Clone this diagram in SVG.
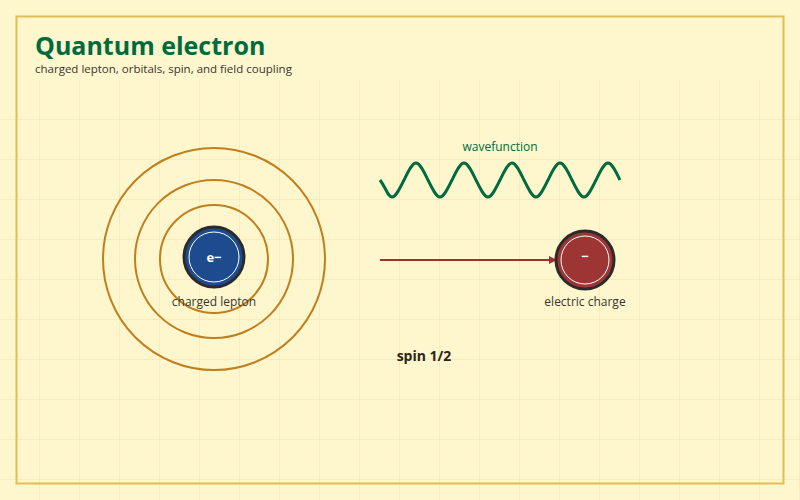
<svg xmlns="http://www.w3.org/2000/svg" width="800" height="500" viewBox="0 0 800 500">
<defs>
<pattern id="grid" width="40" height="40" patternUnits="userSpaceOnUse"><path d="M40 0V40M0 40H40" fill="none" stroke="#f1e2a8" stroke-width="1"/></pattern>
<marker id="ah" markerWidth="8" markerHeight="8" refX="7" refY="4" orient="auto" markerUnits="userSpaceOnUse"><path d="M0 0L8 4L0 8Z" fill="#9e2f2f"/></marker>
<style>
.ring{fill:none;stroke:#c07f1e;stroke-width:2}
.lbl{font-family:"Open Sans","Noto Sans",sans-serif;font-size:12px;fill:#3a3530;text-anchor:middle}
</style>
</defs>
<rect width="800" height="500" fill="#fef6cc"/>
<rect x="0" y="80" width="800" height="420" fill="url(#grid)"/>
<rect x="16.5" y="16.5" width="767" height="467" fill="none" stroke="#e0bd55" stroke-width="2"/>
<text x="35" y="55" font-family="'Open Sans','Noto Sans',sans-serif" font-size="25" font-weight="bold" fill="#006b40">Quantum electron</text>
<text x="35" y="73" font-family="'Open Sans','Noto Sans',sans-serif" font-size="11.5" fill="#3a3530">charged lepton, orbitals, spin, and field coupling</text>
<g id="orbitals">
<circle class="ring" cx="214" cy="259" r="111"/>
<circle class="ring" cx="214" cy="259" r="79"/>
<circle class="ring" cx="214" cy="259" r="54"/>
</g>
<g id="connectors">
<line x1="380" y1="260" x2="556" y2="260" stroke="#9e2f2f" stroke-width="2" marker-end="url(#ah)"/>
</g>
<g id="lepton">
<circle cx="214" cy="257" r="30" fill="#1e4b8e" stroke="#2b2b2b" stroke-width="3"/>
<circle cx="214" cy="257" r="25" fill="none" stroke="#ffffff" stroke-width="1"/>
<text x="214" y="262" text-anchor="middle" font-family="'Open Sans','Noto Sans',sans-serif" font-size="13" font-weight="bold" fill="#ffffff">e−</text>
<text class="lbl" x="214" y="306">charged lepton</text>
</g>
<g id="charge">
<circle cx="585" cy="260" r="29" fill="#9e3535" stroke="#2b2b2b" stroke-width="3"/>
<circle cx="585" cy="260" r="24" fill="none" stroke="#ffffff" stroke-width="1"/>
<text x="585" y="261" text-anchor="middle" font-family="'Open Sans','Noto Sans',sans-serif" font-size="13" font-weight="bold" fill="#ffffff">−</text>
<text class="lbl" x="585" y="306">electric charge</text>
</g>
<g id="wave">
<text x="500" y="151" text-anchor="middle" font-family="'Open Sans','Noto Sans',sans-serif" font-size="12" fill="#006b40">wavefunction</text>
<path d="M380 180 C386 188,388 197,392 197 S400 188,404 180 S412 163,416 163 S424 172,428 180 S436 197,440 197 S448 188,452 180 S460 163,464 163 S472 172,476 180 S484 197,488 197 S496 188,500 180 S508 163,512 163 S520 172,524 180 S532 197,536 197 S544 188,548 180 S556 163,560 163 S568 172,572 180 S580 197,584 197 S592 188,596 180 S604 163,608 163 S616 172,620 180" fill="none" stroke="#006b40" stroke-width="3"/>
</g>
<g id="spin">
<text x="424" y="361" text-anchor="middle" font-family="'Open Sans','Noto Sans',sans-serif" font-size="14" font-weight="bold" fill="#2b2520">spin 1/2</text>
</g>
</svg>
